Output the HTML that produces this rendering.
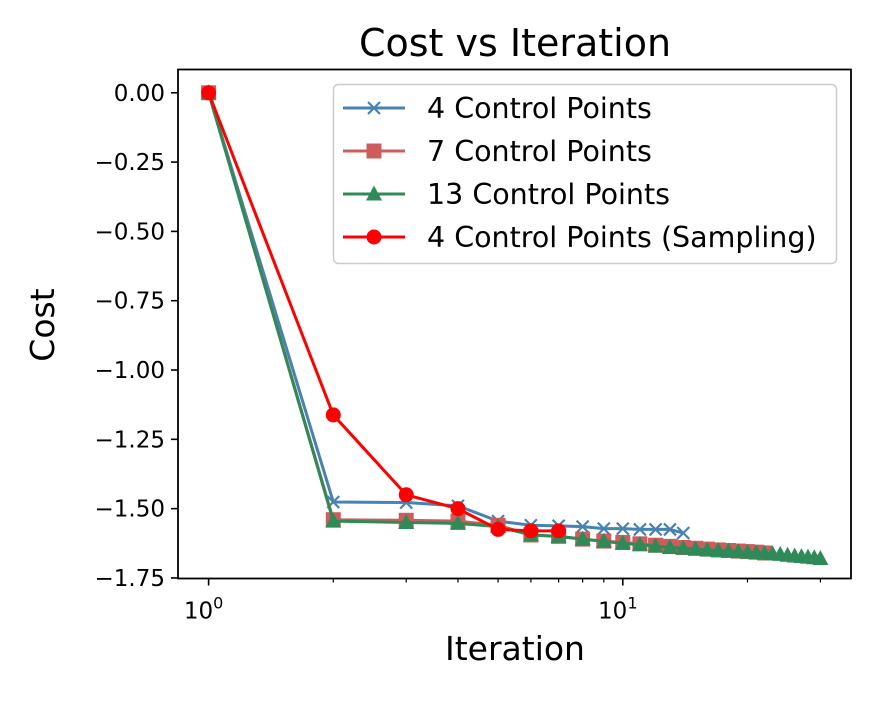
<!DOCTYPE html>
<html><head><meta charset="utf-8"><style>
body{margin:0;background:#fff;}
svg text{font-family:"DejaVu Sans","Liberation Sans",sans-serif;fill:#000;}
</style></head><body>
<svg id="chart" width="879" height="702" xmlns="http://www.w3.org/2000/svg">
<rect width="879" height="702" fill="#fff"/>
<text x="515" y="56" font-size="38" text-anchor="middle">Cost vs Iteration</text>
<text x="515" y="660" font-size="33" text-anchor="middle">Iteration</text>
<text x="54" y="325" font-size="33" text-anchor="middle" transform="rotate(-90 54 325)">Cost</text>
<g id="axes"></g>
<g id="series"></g>
<rect x="178" y="69.5" width="673" height="509" fill="none" stroke="#000" stroke-width="1.8"/>
<g id="legend"></g>
</svg>
<script>
const yTicks=[0,-0.25,-0.5,-0.75,-1,-1.25,-1.5,-1.75];
const yTickLabels=["0.00","\u22120.25","\u22120.50","\u22120.75","\u22121.00","\u22121.25","\u22121.50","\u22121.75"];
const xMajorTicks=[1,10];
const xMinorTicks=[2,3,4,5,6,7,8,9,20,30];
const seriesNames=["4 Control Points","7 Control Points","13 Control Points","4 Control Points (Sampling)"];
const blueY=[0,-1.476,-1.478,-1.49,-1.545,-1.56,-1.562,-1.565,-1.572,-1.572,-1.575,-1.575,-1.575,-1.588];
const pinkY=[0,-1.54,-1.542,-1.545,-1.56,-1.595,-1.6,-1.61,-1.617,-1.622,-1.627,-1.632,-1.636,-1.64,-1.643,-1.646,-1.649,-1.651,-1.653,-1.655,-1.657,-1.66];
const greenY=[0,-1.545,-1.55,-1.553,-1.565,-1.595,-1.6,-1.61,-1.618,-1.625,-1.63,-1.635,-1.64,-1.643,-1.646,-1.649,-1.651,-1.653,-1.655,-1.657,-1.659,-1.661,-1.663,-1.665,-1.668,-1.671,-1.673,-1.675,-1.677,-1.68];
const redY=[0,-1.162,-1.45,-1.5,-1.575,-1.58,-1.58];

const NS="http://www.w3.org/2000/svg";
const L=178,R=851,T=69.5,B=578.5;
const xmin=Math.log10(1)-0.0739, xmax=Math.log10(30)+0.0739;
const ymax=0.084, ymin=-1.752;
function X(v){return L+(Math.log10(v)-xmin)/(xmax-xmin)*(R-L);}
function Y(v){return T+(ymax-v)/(ymax-ymin)*(B-T);}
function mk(tag,attrs,parent){const e=document.createElementNS(NS,tag);for(const k in attrs)e.setAttribute(k,attrs[k]);parent.appendChild(e);return e;}
const axes=document.getElementById('axes');
yTicks.forEach((v,i)=>{
  const t=mk('line',{x1:L-7,x2:L,y1:Y(v),y2:Y(v),stroke:'#000','stroke-width':1.6},axes);
  
  
  const tx=mk('text',{x:L-13,y:Y(v)+8,'font-size':23,'text-anchor':'end'},axes);
  tx.textContent=yTickLabels[i];
  
  
});
xMajorTicks.forEach((v,i)=>{
  const t=mk('line',{x1:X(v),x2:X(v),y1:B,y2:B+7,stroke:'#000','stroke-width':1.6},axes);
  
  
  const tx=mk('text',{x:X(v)-5,y:B+40,'font-size':23,'text-anchor':'middle'},axes);
  tx.innerHTML='10<tspan font-size="16" dy="-10">'+i+'</tspan>';
  
  
});
xMinorTicks.forEach(v=>{
  const t=mk('line',{x1:X(v),x2:X(v),y1:B,y2:B+4,stroke:'#000','stroke-width':1.2},axes);
  
  
});
function marker(type,cx,cy,color,parent){
  let e;
  if(type==='x'){e=mk('path',{d:`M${cx-6},${cy-6}L${cx+6},${cy+6}M${cx-6},${cy+6}L${cx+6},${cy-6}`,stroke:color,'stroke-width':2.2,fill:'none'},parent);}
  else if(type==='s'){e=mk('rect',{x:cx-7.5,y:cy-7.5,width:15,height:15,fill:color},parent);}
  else if(type==='^'){e=mk('path',{d:`M${cx},${cy-8.5}L${cx+8},${cy+6.5}L${cx-8},${cy+6.5}Z`,fill:color},parent);}
  else {e=mk('circle',{cx:cx,cy:cy,r:7.5,fill:color},parent);}
  return e;
}
const defs=[[blueY,'#4682b4','x','series-4-control-points'],[pinkY,'#cd5c5c','s','series-7-control-points'],[greenY,'#2e8b57','^','series-13-control-points'],[redY,'#ff0000','o','series-4-control-points-sampling']];
const sg=document.getElementById('series');
defs.forEach(([ys,c,m,name])=>{
  const g=mk('g',{},sg);
  
  
  const pts=ys.map((v,i)=>X(i+1)+','+Y(v)).join(' ');
  const pl=mk('polyline',{points:pts,fill:'none',stroke:c,'stroke-width':3,'stroke-linejoin':'round'},g);
  
  
  ys.forEach((v,i)=>{
    const p=marker(m,X(i+1),Y(v),c,g);
    
    
  });
});
const lg=document.getElementById('legend');
const box=mk('rect',{x:333.5,y:84.5,width:503,height:179,rx:5,fill:'#fff','fill-opacity':0.8,stroke:'#ccc','stroke-width':1.5},lg);


const ly=[108,151,194,237];
defs.forEach(([ys,c,m,name],i)=>{
  const g=mk('g',{},lg);
  
  
  mk('line',{x1:343,x2:405,y1:ly[i],y2:ly[i],stroke:c,'stroke-width':3},g);
  marker(m,374,ly[i],c,g);
  const t=mk('text',{x:427,y:ly[i]+10,'font-size':28.5},g);
  t.textContent=seriesNames[i];
});
</script>
</body></html>
